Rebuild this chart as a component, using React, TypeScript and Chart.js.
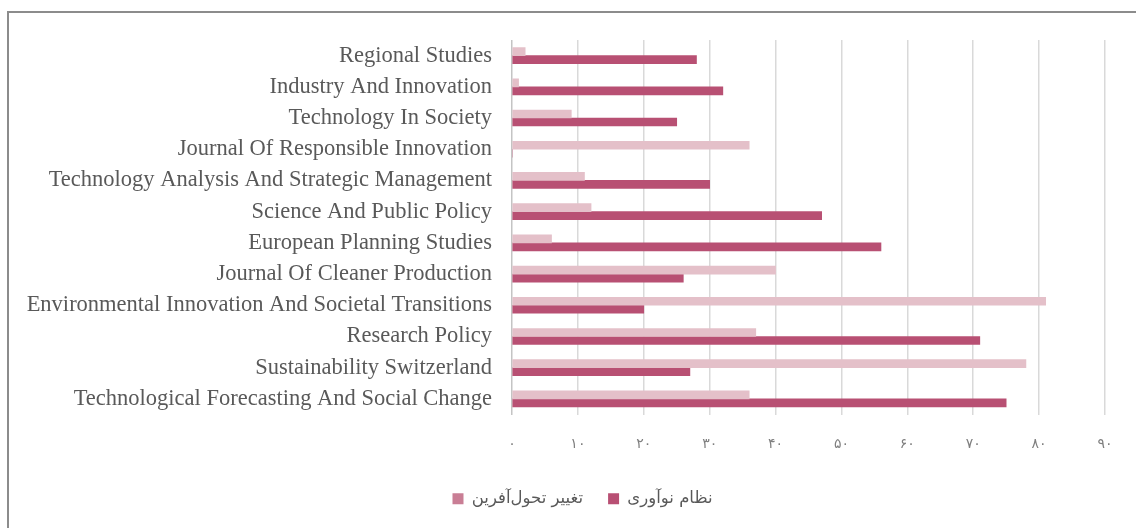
import React, { useEffect, useRef } from 'react';
import { Chart, registerables } from 'chart.js';

Chart.register(...registerables);

const categories = [
  'Regional Studies',
  'Industry And Innovation',
  'Technology In Society',
  'Journal Of Responsible Innovation',
  'Technology Analysis And Strategic Management',
  'Science And Public Policy',
  'European Planning Studies',
  'Journal Of Cleaner Production',
  'Environmental Innovation And Societal Transitions',
  'Research Policy',
  'Sustainability Switzerland',
  'Technological Forecasting And Social Change',
];

const transformativeChange = [2, 1, 9, 36, 11, 12, 6, 40, 81, 37, 78, 36];
const innovationSystem = [28, 32, 25, 0, 30, 47, 56, 26, 20, 71, 27, 75];

const seriesNames = ['تغییر تحول‌آفرین', 'نظام نوآوری'];
const xTickLabels = ['۰', '۱۰', '۲۰', '۳۰', '۴۰', '۵۰', '۶۰', '۷۰', '۸۰', '۹۰'];

const barColors = ['#e4c0c9', '#b85073'];
const legendColors = ['#c97e95', '#b84f73'];

const legendShift = {
  id: 'legendShift',
  afterLayout(chart: any) {
    if (chart.legend) {
      chart.legend.left = 60;
      chart.legend.right = 1105;
    }
  },
};

export default function App() {
  const ref = useRef<HTMLCanvasElement | null>(null);

  useEffect(() => {
    if (!ref.current) return;
    const chart = new Chart(ref.current, {
      type: 'bar',
      data: {
        labels: categories,
        datasets: [
          {
            label: seriesNames[0],
            data: transformativeChange,
            backgroundColor: barColors[0],
            borderWidth: 0,
            barThickness: 8,
          },
          {
            label: seriesNames[1],
            data: innovationSystem,
            backgroundColor: barColors[1],
            borderWidth: 0,
            barThickness: 8,
          },
        ],
      },
      options: {
        indexAxis: 'y',
        animation: false,
        responsive: false,
        layout: { padding: { left: 0, right: 31, top: 40, bottom: 11 } },
        scales: {
          x: {
            min: 0,
            max: 90,
            ticks: {
              stepSize: 10,
              color: '#7f7f7f',
              font: { family: 'DejaVu Sans', size: 14 },
              padding: 21,
              callback: (v: any) => xTickLabels[Math.round(Number(v) / 10)],
            },
            grid: {
              drawTicks: false,
              color: (ctx: any) => (ctx.tick && ctx.tick.value === 0 ? '#c4c4c4' : '#d9d9d9'),
              lineWidth: 1.5,
            },
            border: { display: false },
            afterFit: (s: any) => {
              s.height = 51;
            },
          },
          y: {
            ticks: {
              color: '#595959',
              font: { family: 'Liberation Serif', size: 22.5 },
              padding: 20,
              autoSkip: false,
            },
            grid: { display: false, drawTicks: false },
            border: { display: false },
            afterFit: (s: any) => {
              s.width = 512;
            },
          },
        },
        plugins: {
          tooltip: { enabled: false },
          legend: {
            position: 'bottom',
            labels: {
              color: '#595959',
              font: { family: 'DejaVu Sans', size: 16.5 },
              boxWidth: 11,
              boxHeight: 11,
              padding: 25,
              generateLabels: (c: any) => {
                const items = Chart.defaults.plugins.legend.labels.generateLabels(c);
                return items.map((it: any, i: number) => ({
                  ...it,
                  fillStyle: legendColors[i],
                  strokeStyle: legendColors[i],
                  lineWidth: 0,
                }));
              },
            },
          },
        },
      },
      plugins: [legendShift],
    });
    return () => chart.destroy();
  }, []);

  return (
    <>
      <div
        style={{
          position: 'fixed',
          left: 7,
          top: 11,
          width: 1200,
          height: 600,
          border: '2px solid #8c8c8c',
          boxSizing: 'border-box',
        }}
      />
      <canvas
        ref={ref}
        width={1136}
        height={528}
        style={{ position: 'fixed', left: 0, top: 0, width: 1136, height: 528, display: 'block' }}
      />
    </>
  );
}
